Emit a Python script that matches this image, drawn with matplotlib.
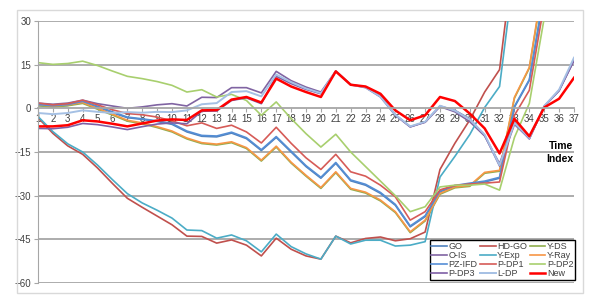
import matplotlib.pyplot as plt
import matplotlib as mpl
from matplotlib.patches import Rectangle

mpl.rcParams['font.family'] = ['Liberation Sans', 'DejaVu Sans']

idx = list(range(1, 38))

go = [1.0, 0.6, 1.0, 2.2, 0.5, -1.5, -3.2, -3.8, -4.5, -5.5, -8.1, -9.6, -9.8, -8.5, -10.4,
      -14.5, -10.0, -15.0, -20.0, -24.0, -18.9, -24.9, -26.4, -29.2, -33.3, -40.7, -37.2,
      -28.7, -26.8, -26.0, -25.3, -24.0, 0.4, 9.6, 39.0, 70.0, 100.0]
hd_go = [-3.2, -8.6, -12.9, -15.8, -20.5, -25.8, -30.9, -34.0, -37.0, -40.0, -43.9, -44.0,
         -46.3, -45.2, -47.0, -50.7, -44.6, -48.4, -50.7, -51.8, -43.9, -46.2, -44.7, -44.2,
         -45.5, -44.8, -42.5, -21.0, -12.0, -4.0, 5.6, 13.3, 55.0, 80.0, 100.0, 120.0, 140.0]
y_ds = [0.9, 0.5, 0.9, 1.7, -0.3, -2.3, -4.4, -5.3, -6.6, -8.1, -10.5, -12.1, -12.6, -11.8,
        -13.8, -18.1, -13.3, -18.8, -23.3, -27.5, -22.1, -27.8, -29.1, -31.8, -35.8, -42.7,
        -38.7, -29.5, -27.3, -26.8, -22.3, -21.6, 3.5, 13.8, 45.0, 75.0, 105.0]
o_is = [1.8, 1.4, 1.8, 2.8, 1.6, 0.8, 0.0, 0.5, 1.2, 1.6, 0.8, 3.8, 3.7, 7.1, 7.1, 5.3,
        12.7, 9.5, 7.3, 5.6, 12.8, 8.2, 7.3, 4.3, -2.2, -6.3, -4.8, 0.6, -1.2, -4.6, -9.5,
        -19.0, -4.8, -10.5, 0.7, 6.0, 16.5]
y_exp = [-2.8, -8.0, -12.2, -15.0, -19.5, -24.5, -29.3, -32.5, -35.0, -37.7, -41.8, -42.0,
         -44.6, -43.5, -45.5, -49.3, -43.2, -47.5, -50.0, -51.8, -43.9, -46.6, -45.3, -45.3,
         -47.3, -47.0, -45.8, -23.6, -16.5, -9.0, 0.3, 7.5, 48.0, 75.0, 100.0, 120.0, 140.0]
y_ray = [1.2, 0.8, 1.2, 2.0, 0.0, -2.0, -4.1, -5.0, -6.3, -7.8, -10.2, -11.8, -12.3, -11.5,
         -13.5, -17.8, -13.0, -18.5, -23.0, -27.2, -21.8, -27.5, -28.8, -31.5, -35.5, -42.4,
         -38.4, -29.2, -27.0, -26.5, -22.0, -21.3, 3.8, 14.1, 46.0, 75.0, 105.0]
pz_ifd = [1.3, 0.9, 1.3, 2.4, 0.7, -1.2, -3.0, -3.6, -4.3, -5.2, -7.8, -9.3, -9.5, -8.2,
          -10.1, -14.2, -9.7, -14.7, -19.7, -23.7, -18.6, -24.6, -26.1, -28.9, -33.0, -40.4,
          -36.9, -28.4, -26.5, -25.7, -25.0, -23.7, 0.7, 9.9, 40.0, 70.0, 100.0]
p_dp1 = [1.8, 1.2, 1.6, 2.8, 1.2, -0.5, -1.8, -2.2, -3.0, -4.3, -6.0, -5.0, -6.9, -5.8, -8.1,
         -11.9, -6.5, -12.0, -17.0, -21.0, -15.8, -21.8, -23.3, -26.4, -30.4, -38.4, -35.5,
         -28.0, -26.5, -26.0, -25.7, -25.3, -2.4, 6.2, 36.0, 66.0, 96.0]
p_dp2 = [15.7, 15.1, 15.4, 16.2, 14.7, 12.8, 11.0, 10.2, 9.2, 7.9, 5.6, 6.4, 3.9, 4.8, 2.7,
         -2.4, 2.2, -3.5, -8.7, -13.3, -8.9, -15.0, -20.0, -25.0, -30.0, -35.5, -33.8, -27.0,
         -26.4, -26.4, -26.0, -28.1, -10.0, 1.7, 31.0, 60.0, 90.0]
p_dp3 = [-6.9, -7.0, -6.5, -5.2, -5.6, -6.4, -7.3, -6.3, -5.4, -5.0, -5.3, -1.0, -0.9, 2.7,
         3.6, 1.6, 11.0, 8.5, 6.5, 5.0, 12.7, 8.1, 7.1, 3.9, -2.4, -6.4, -4.7, 0.8, -0.7, -3.6,
         -9.3, -19.8, -5.5, -10.4, 0.7, 6.2, 16.4]
l_dp = [-1.6, -2.0, -1.6, -0.7, -1.2, -1.6, -1.3, -1.5, -1.2, -1.3, -0.7, 1.4, 1.8, 5.6, 5.9,
        4.1, 11.6, 9.0, 6.8, 5.2, 12.8, 8.1, 7.2, 4.0, -2.2, -6.2, -4.6, 0.9, -0.8, -3.8,
        -9.0, -19.5, -5.0, -10.2, 0.8, 6.4, 17.4]
new = [-6.2, -6.2, -5.8, -4.1, -4.5, -5.3, -6.2, -5.2, -4.2, -3.8, -4.0, -0.7, -0.6, 3.0, 3.9,
       2.0, 10.2, 7.5, 5.6, 3.9, 12.7, 8.1, 7.5, 5.0, -0.7, -4.1, -2.4, 3.9, 2.5, -1.8, -6.9,
       -15.5, -3.6, -9.6, 0.3, 3.3, 10.5]

series = [
    ("GO", go, '#4F81BD', 1.2),
    ("HD-GO", hd_go, '#C0504D', 1.2),
    ("Y-DS", y_ds, '#8FAE4E', 1.2),
    ("O-IS", o_is, '#8064A2', 1.2),
    ("Y-Exp", y_exp, '#4BACC6', 1.2),
    ("Y-Ray", y_ray, '#F79646', 1.2),
    ("PZ-IFD", pz_ifd, '#558ED5', 1.2),
    ("P-DP1", p_dp1, '#D65B57', 1.2),
    ("P-DP2", p_dp2, '#A8CF6E', 1.2),
    ("P-DP3", p_dp3, '#7E5FA6', 1.2),
    ("L-DP", l_dp, '#A5C0E4', 1.4),
    ("New", new, '#FF0000', 1.8),
]

fig = plt.figure(figsize=(6.1, 3.06), dpi=100)
ax = fig.add_axes([38 / 610, 1 - 283 / 306, 536 / 610, 262 / 306])

# chart-area border like the spreadsheet export
fig.patches.append(Rectangle((17 / 610, 1 - 293 / 306), 566 / 610, 283 / 306,
                             transform=fig.transFigure, fill=False,
                             edgecolor='#D9D9D9', linewidth=1))

handles = {}
for name, vals, col, lw in series:
    h, = ax.plot(idx, vals, color=col, linewidth=lw, label=name)
    handles[name] = h

ax.set_xlim(1, 37)
ax.set_ylim(-60, 30)
ax.set_yticks([-60, -45, -30, -15, 0, 15, 30])
ax.set_xticks(idx)
ax.set_xticks(idx, minor=True)

for y in [-60, -45, -30, -15, 15, 30]:
    ax.axhline(y, color='#A6A6A6', linewidth=1.3, zorder=0)
ax.grid(True, which='minor', axis='x', color='#F0F0F0', linewidth=0.8, zorder=0)

for s in ['top', 'right']:
    ax.spines[s].set_visible(False)
ax.spines['left'].set_color('#A6A6A6')
ax.spines['bottom'].set_position(('data', 0))
ax.spines['bottom'].set_color('#A6A6A6')
ax.spines['bottom'].set_linewidth(1.3)
ax.tick_params(axis='x', which='major', labelsize=7, colors='#A6A6A6', labelcolor='#404040',
               length=3, pad=1)
ax.tick_params(axis='x', which='minor', length=0)
ax.tick_params(axis='y', labelsize=7, colors='#A6A6A6', labelcolor='#404040', length=3, pad=2)

fig.text(573 / 610, 1 - 146 / 306, "Time", fontsize=7.5, fontweight='bold',
         ha='right', va='center')
fig.text(573 / 610, 1 - 159 / 306, "Index", fontsize=7.5, fontweight='bold',
         ha='right', va='center')

order = ["GO", "O-IS", "PZ-IFD", "P-DP3",
         "HD-GO", "Y-Exp", "P-DP1", "L-DP",
         "Y-DS", "Y-Ray", "P-DP2", "New"]
leg = ax.legend([handles[n] for n in order], order, ncol=3, loc='lower right',
                bbox_to_anchor=(1.002, 0.012), fontsize=6.5, frameon=True, fancybox=False,
                edgecolor='black', framealpha=1, labelspacing=0.0, handlelength=1.7,
                handletextpad=0.15, columnspacing=0.35, borderpad=0.2, borderaxespad=0)
leg.get_frame().set_linewidth(1.0)
for t in leg.get_texts():
    t.set_color('#404040')

plt.savefig("out.png", dpi=100)
